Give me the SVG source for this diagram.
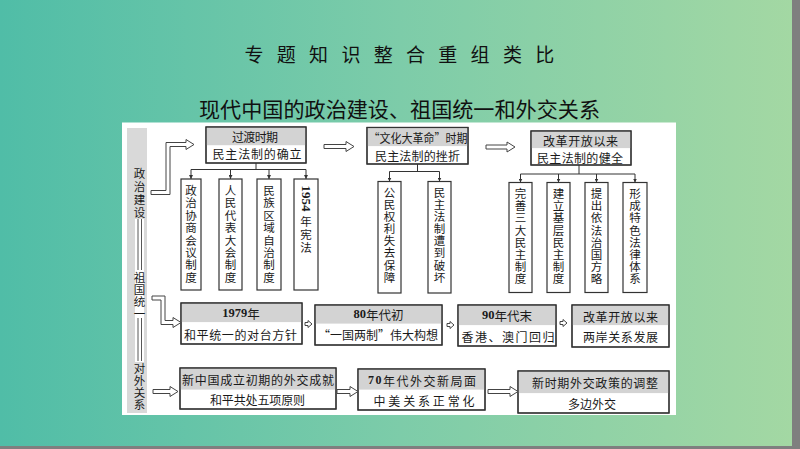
<svg xmlns="http://www.w3.org/2000/svg" width="800" height="449" viewBox="0 0 800 449">
<defs>
<linearGradient id="bg" x1="0" y1="0" x2="1" y2="0">
<stop offset="0" stop-color="#50bda7"/>
<stop offset="0.5" stop-color="#7dcca9"/>
<stop offset="1" stop-color="#a4d8a3"/>
</linearGradient>
<marker id="ah" viewBox="0 0 6 6" refX="6" refY="3" markerWidth="4" markerHeight="4" markerUnits="userSpaceOnUse" orient="auto">
<path d="M0,0 L6,3 L0,6 Z" fill="#333"/>
</marker>
</defs>
<style>
.t{font-family:"Noto Sans CJK SC","Noto Sans CJK JP",sans-serif;font-size:12px;fill:#1a1a1a;text-anchor:middle;dominant-baseline:central}
.v{font-size:11.5px}
.box{fill:#fff;stroke:#333;stroke-width:1.2}
.out{fill:none;stroke:#333;stroke-width:1.2}
.hdr{fill:#d3d3d3}
.conn{stroke:#333;stroke-width:1;fill:none}
.ha{fill:#fff;stroke:#444;stroke-width:1;stroke-linejoin:miter}
.dl{stroke:#444;stroke-width:0.9}
.num{font-family:"Liberation Serif",serif;font-weight:bold}
</style>
<rect x="0" y="0" width="800" height="449" fill="url(#bg)"/>
<rect x="792" y="0" width="8" height="449" fill="#7f7f7f"/>
<rect x="0" y="446" width="800" height="3" fill="#7f7f7f"/>
<text class="t" style="font-size:19px;fill:#111" y="53" x="254 286.3 318.6 350.9 383.2 415.5 447.8 480.1 512.4 544.7">专题知识整合重组类比</text>
<text class="t" style="font-size:21px;fill:#111;text-anchor:start" x="199" y="108" textLength="401" lengthAdjust="spacingAndGlyphs">现代中国的政治建设、祖国统一和外交关系</text>
<rect x="122" y="122.5" width="554" height="292.5" fill="#fff"/>

<g id="leftcol">
<rect x="127" y="128" width="20" height="285" fill="#d9d9d9"/>
<rect x="135" y="219" width="9" height="143" fill="#fff"/>
<line class="dl" x1="138" y1="219" x2="138" y2="270"/>
<line class="dl" x1="141.5" y1="219" x2="141.5" y2="270"/>
<line class="dl" x1="138" y1="318" x2="138" y2="361"/>
<line class="dl" x1="141.5" y1="318" x2="141.5" y2="361"/>
<text class="t v"><tspan x="139.5" y="173">政</tspan><tspan x="139.5" y="186">治</tspan><tspan x="139.5" y="199">建</tspan><tspan x="139.5" y="212">设</tspan></text>
<text class="t v"><tspan x="139.5" y="277">祖</tspan><tspan x="139.5" y="289">国</tspan><tspan x="139.5" y="301">统</tspan><tspan x="139.5" y="313">一</tspan></text>
<text class="t v"><tspan x="139.5" y="368">对</tspan><tspan x="139.5" y="380">外</tspan><tspan x="139.5" y="392">关</tspan><tspan x="139.5" y="404">系</tspan></text>
</g>

<g id="b1">
<rect class="box" x="206" y="127" width="100" height="36"/>
<rect class="hdr" x="206.6" y="127.6" width="98.8" height="17.6"/>
<rect class="out" x="206" y="127" width="100" height="36"/>
<text class="t" x="255" y="136" textLength="46" lengthAdjust="spacing">过渡时期</text>
<text class="t" x="257" y="153.5" textLength="89" lengthAdjust="spacing">民主法制的确立</text>
</g>
<g id="b2">
<rect class="box" x="367" y="127.5" width="101" height="36.5"/>
<rect class="hdr" x="367.6" y="128.1" width="99.8" height="18"/>
<rect class="out" x="367" y="127.5" width="101" height="36.5"/>
<text class="t" x="418" y="137" textLength="99" lengthAdjust="spacingAndGlyphs">“文化大革命”时期</text>
<text class="t" x="417.5" y="155" textLength="85" lengthAdjust="spacing">民主法制的挫折</text>
</g>
<g id="b3">
<rect class="box" x="531" y="131" width="100" height="34"/>
<rect class="hdr" x="531.6" y="131.6" width="98.8" height="16.5"/>
<rect class="out" x="531" y="131" width="100" height="34"/>
<text class="t" x="580.5" y="140" textLength="75" lengthAdjust="spacing">改革开放以来</text>
<text class="t" x="580" y="157.5" textLength="86" lengthAdjust="spacing">民主法制的健全</text>
</g>

<g id="v1"><rect class="box" x="181" y="179" width="20" height="111"/>
<text class="t v"><tspan x="191" y="190">政</tspan><tspan x="191" y="202.4">治</tspan><tspan x="191" y="214.8">协</tspan><tspan x="191" y="227.2">商</tspan><tspan x="191" y="239.6">会</tspan><tspan x="191" y="252">议</tspan><tspan x="191" y="264.4">制</tspan><tspan x="191" y="276.8">度</tspan></text></g>
<g id="v2"><rect class="box" x="219" y="179" width="23" height="111"/>
<text class="t v"><tspan x="230.5" y="190">人</tspan><tspan x="230.5" y="202.4">民</tspan><tspan x="230.5" y="214.8">代</tspan><tspan x="230.5" y="227.2">表</tspan><tspan x="230.5" y="239.6">大</tspan><tspan x="230.5" y="252">会</tspan><tspan x="230.5" y="264.4">制</tspan><tspan x="230.5" y="276.8">度</tspan></text></g>
<g id="v3"><rect class="box" x="257" y="179" width="24" height="111"/>
<text class="t v"><tspan x="269" y="190">民</tspan><tspan x="269" y="202.4">族</tspan><tspan x="269" y="214.8">区</tspan><tspan x="269" y="227.2">域</tspan><tspan x="269" y="239.6">自</tspan><tspan x="269" y="252">治</tspan><tspan x="269" y="264.4">制</tspan><tspan x="269" y="276.8">度</tspan></text></g>
<g id="v4"><rect class="box" x="294" y="179" width="24" height="111"/>
<text class="t num" style="font-size:13px" transform="translate(306,198.5) rotate(90)" x="0" y="0">1954</text>
<text class="t v"><tspan x="306" y="220.5">年</tspan><tspan x="306" y="233.5">宪</tspan><tspan x="306" y="246.5">法</tspan></text></g>

<g id="v5"><rect class="box" x="378" y="181.5" width="23" height="111.5"/>
<text class="t v"><tspan x="389.5" y="191.7">公</tspan><tspan x="389.5" y="203.8">民</tspan><tspan x="389.5" y="216">权</tspan><tspan x="389.5" y="228.1">利</tspan><tspan x="389.5" y="240.3">失</tspan><tspan x="389.5" y="252.4">去</tspan><tspan x="389.5" y="264.6">保</tspan><tspan x="389.5" y="276.7">障</tspan></text></g>
<g id="v6"><rect class="box" x="428" y="181.5" width="23" height="111.5"/>
<text class="t v"><tspan x="439.5" y="191.7">民</tspan><tspan x="439.5" y="203.8">主</tspan><tspan x="439.5" y="216">法</tspan><tspan x="439.5" y="228.1">制</tspan><tspan x="439.5" y="240.3">遭</tspan><tspan x="439.5" y="252.4">到</tspan><tspan x="439.5" y="264.6">破</tspan><tspan x="439.5" y="276.7">坏</tspan></text></g>

<g id="v7"><rect class="box" x="509" y="182.5" width="23" height="110"/>
<text class="t v"><tspan x="520.5" y="193">完</tspan><tspan x="520.5" y="205.2">善</tspan><tspan x="520.5" y="217.4">三</tspan><tspan x="520.5" y="229.6">大</tspan><tspan x="520.5" y="241.8">民</tspan><tspan x="520.5" y="254">主</tspan><tspan x="520.5" y="266.2">制</tspan><tspan x="520.5" y="278.4">度</tspan></text></g>
<g id="v8"><rect class="box" x="547" y="182.5" width="23" height="110"/>
<text class="t v"><tspan x="558.5" y="193">建</tspan><tspan x="558.5" y="205.2">立</tspan><tspan x="558.5" y="217.4">基</tspan><tspan x="558.5" y="229.6">层</tspan><tspan x="558.5" y="241.8">民</tspan><tspan x="558.5" y="254">主</tspan><tspan x="558.5" y="266.2">制</tspan><tspan x="558.5" y="278.4">度</tspan></text></g>
<g id="v9"><rect class="box" x="585" y="182.5" width="23" height="110"/>
<text class="t v"><tspan x="596.5" y="193">提</tspan><tspan x="596.5" y="205.2">出</tspan><tspan x="596.5" y="217.4">依</tspan><tspan x="596.5" y="229.6">法</tspan><tspan x="596.5" y="241.8">治</tspan><tspan x="596.5" y="254">国</tspan><tspan x="596.5" y="266.2">方</tspan><tspan x="596.5" y="278.4">略</tspan></text></g>
<g id="v10"><rect class="box" x="623" y="182.5" width="24" height="110"/>
<text class="t v"><tspan x="635" y="193">形</tspan><tspan x="635" y="205.2">成</tspan><tspan x="635" y="217.4">特</tspan><tspan x="635" y="229.6">色</tspan><tspan x="635" y="241.8">法</tspan><tspan x="635" y="254">律</tspan><tspan x="635" y="266.2">体</tspan><tspan x="635" y="278.4">系</tspan></text></g>

<g id="m1">
<rect class="box" x="181" y="303" width="121" height="41"/>
<rect class="hdr" x="181.6" y="303.6" width="119.8" height="18.5"/>
<rect class="out" x="181" y="303" width="121" height="41"/>
<text class="t" style="font-size:12.5px" x="241" y="313"><tspan class="num">1979</tspan>年</text>
<text class="t" x="240.5" y="334" textLength="113" lengthAdjust="spacing">和平统一的对台方针</text>
</g>
<g id="m2">
<rect class="box" x="315" y="305" width="127" height="40"/>
<rect class="hdr" x="315.6" y="305.6" width="125.8" height="18"/>
<rect class="out" x="315" y="305" width="127" height="40"/>
<text class="t" style="font-size:12.5px" x="378.5" y="314"><tspan class="num">80</tspan>年代初</text>
<text class="t" x="378" y="334" textLength="120" lengthAdjust="spacing">“一国两制”伟大构想</text>
</g>
<g id="m3">
<rect class="box" x="458" y="305" width="98" height="41"/>
<rect class="hdr" x="458.6" y="305.6" width="96.8" height="19.5"/>
<rect class="out" x="458" y="305" width="98" height="41"/>
<text class="t" style="font-size:12.5px" x="507" y="315"><tspan class="num">90</tspan>年代末</text>
<text class="t" x="508" y="336.5" textLength="93" lengthAdjust="spacing">香港、澳门回归</text>
</g>
<g id="m4">
<rect class="box" x="572" y="305" width="97" height="42"/>
<rect class="hdr" x="572.6" y="305.6" width="95.8" height="19.5"/>
<rect class="out" x="572" y="305" width="97" height="42"/>
<text class="t" x="620.5" y="316" textLength="75" lengthAdjust="spacing">改革开放以来</text>
<text class="t" x="620.5" y="336.5" textLength="75" lengthAdjust="spacing">两岸关系发展</text>
</g>

<g id="d1">
<rect class="box" x="180" y="368" width="156" height="41"/>
<rect class="hdr" x="180.6" y="368.6" width="154.8" height="21"/>
<rect class="out" x="180" y="368" width="156" height="41"/>
<text class="t" x="258" y="379" textLength="152" lengthAdjust="spacing">新中国成立初期的外交成就</text>
<text class="t" x="257.5" y="399.5" textLength="95" lengthAdjust="spacing">和平共处五项原则</text>
</g>
<g id="d2">
<rect class="box" x="358" y="369" width="127" height="41"/>
<rect class="hdr" x="358.6" y="369.6" width="125.8" height="20"/>
<rect class="out" x="358" y="369" width="127" height="41"/>
<text class="t" x="422" y="380" textLength="108" lengthAdjust="spacing"><tspan class="num">70</tspan>年代外交新局面</text>
<text class="t" x="424" y="400" textLength="101" lengthAdjust="spacing">中美关系正常化</text>
</g>
<g id="d3">
<rect class="box" x="518" y="371" width="151" height="42"/>
<rect class="hdr" x="518.6" y="371.6" width="149.8" height="21.5"/>
<rect class="out" x="518" y="371" width="151" height="42"/>
<text class="t" x="595" y="382" textLength="126" lengthAdjust="spacing">新时期外交政策的调整</text>
<text class="t" x="592" y="403" textLength="48" lengthAdjust="spacing">多边外交</text>
</g>

<g id="connectors">
<path class="conn" d="M256,163 V169.5 M191,169.5 H306"/>
<path class="conn" marker-end="url(#ah)" d="M191,169.5 V179"/>
<path class="conn" marker-end="url(#ah)" d="M230.5,169.5 V179"/>
<path class="conn" marker-end="url(#ah)" d="M269,169.5 V179"/>
<path class="conn" marker-end="url(#ah)" d="M306,169.5 V179"/>
<path class="conn" d="M417.5,164 V171.5 M389.5,171.5 H439.5"/>
<path class="conn" marker-end="url(#ah)" d="M389.5,171.5 V181.5"/>
<path class="conn" marker-end="url(#ah)" d="M439.5,171.5 V181.5"/>
<path class="conn" d="M579,165 V174 M520.5,174 H635"/>
<path class="conn" marker-end="url(#ah)" d="M520.5,174 V182.5"/>
<path class="conn" marker-end="url(#ah)" d="M558.5,174 V182.5"/>
<path class="conn" marker-end="url(#ah)" d="M596.5,174 V182.5"/>
<path class="conn" marker-end="url(#ah)" d="M635,174 V182.5"/>
<path class="ha" d="M151,194.5 H170 V146.5 H186 V149.5 L194,144.5 L186,139.5 V142.5 H166 V190.5 H151 Z"/>
<path class="ha" d="M152,296 H165 V320.5 H173 V317.5 L181,322.5 L173,327.5 V324.5 H161 V300 H152 Z"/>
<path class="ha" d="M324,144.5 H346 V141.5 L354,146.5 L346,151.5 V148.5 H324 Z"/>
<path class="ha" d="M486,145 H507 V142 L515,147 L507,152 V149 H486 Z"/>
<path class="ha" d="M153,389.5 H170 V386.5 L178,391.5 L170,396.5 V393.5 H153 Z"/>
<path class="ha" d="M337,389.5 H350 V386.5 L358,391.5 L350,396.5 V393.5 H337 Z"/>
<path class="ha" d="M488,389.5 H510 V386.5 L518,391.5 L510,396.5 V393.5 H488 Z"/>
<path class="ha" d="M305,322.5 H308 V320.5 L312,324 L308,327.5 V325.5 H305 Z"/>
<path class="ha" d="M447,323.5 H450 V321.5 L454,325 L450,328.5 V326.5 H447 Z"/>
<path class="ha" d="M560,321.5 H563 V319.5 L567,323 L563,326.5 V324.5 H560 Z"/>
</g>
</svg>
